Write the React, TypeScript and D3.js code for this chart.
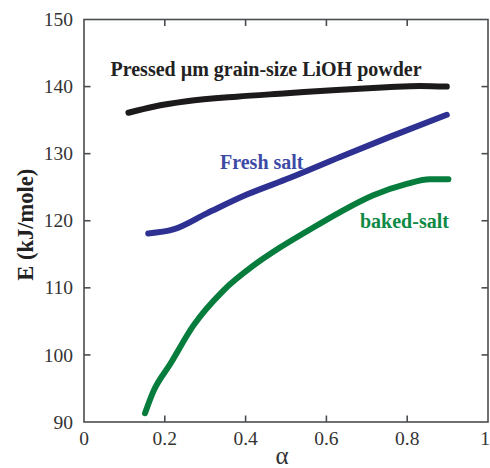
import React from "react";
import * as d3 from "d3";

// Activation energy E versus conversion α for three LiOH samples
const pressedAlpha = [0.110, 0.172, 0.254, 0.378, 0.502, 0.625, 0.749, 0.832, 0.898];
const pressedE = [136.1, 137.0, 137.8, 138.5, 139.0, 139.5, 139.9, 140.1, 140.0];

const freshAlpha = [0.159, 0.221, 0.304, 0.403, 0.510, 0.634, 0.757, 0.898];
const freshE = [118.1, 118.7, 121.1, 123.9, 126.4, 129.5, 132.5, 135.8];

const bakedAlpha = [0.151, 0.172, 0.213, 0.271, 0.345, 0.419, 0.485, 0.551, 0.634, 0.716, 0.799, 0.856, 0.902];
const bakedE = [91.3, 94.6, 98.6, 104.4, 109.6, 113.3, 116.0, 118.4, 121.3, 123.8, 125.5, 126.2, 126.2];

const xTicks = [0, 0.2, 0.4, 0.6, 0.8, 1];
const yTicks = [90, 100, 110, 120, 130, 140, 150];

const seriesNames = ["Pressed µm grain-size LiOH powder", "Fresh salt", "baked-salt"];

const W = 490;
const H = 468;
const left = 84;
const right = 488;
const top = 19.5;
const bottom = 422;

const serif = "Liberation Serif";

export default function App() {
  const x = d3.scaleLinear().domain([0, 1]).range([left, right]);
  const y = d3.scaleLinear().domain([90, 150]).range([bottom, top]);

  const line = d3
    .line<[number, number]>()
    .x((d) => x(d[0]))
    .y((d) => y(d[1]))
    .curve(d3.curveMonotoneX);

  const zip = (a: number[], b: number[]) => a.map((v, i) => [v, b[i]] as [number, number]);

  const series = [
    { data: zip(pressedAlpha, pressedE), color: "#1c1a1a" },
    { data: zip(freshAlpha, freshE), color: "#2e3192" },
    { data: zip(bakedAlpha, bakedE), color: "#067d3c" },
  ];

  const axisColor = "#4a4d4f";
  const tickLen = 6.5;

  return (
    <svg
      width={W}
      height={H}
      style={{ position: "absolute", left: 0, top: 0, background: "#fff" }}
    >
      {/* frame */}
      <rect
        x={left}
        y={top}
        width={right - left}
        height={bottom - top}
        fill="none"
        stroke={axisColor}
        strokeWidth={1.6}
      />
      {/* inward ticks on all four sides */}
      {xTicks.slice(1, -1).map((t) => (
        <g key={"xt" + t}>
          <line x1={x(t)} x2={x(t)} y1={bottom} y2={bottom - tickLen} stroke={axisColor} strokeWidth={1.6} />
          <line x1={x(t)} x2={x(t)} y1={top} y2={top + tickLen} stroke={axisColor} strokeWidth={1.6} />
        </g>
      ))}
      {yTicks.slice(1, -1).map((t) => (
        <g key={"yt" + t}>
          <line x1={left} x2={left + tickLen} y1={y(t)} y2={y(t)} stroke={axisColor} strokeWidth={1.6} />
          <line x1={right} x2={right - tickLen} y1={y(t)} y2={y(t)} stroke={axisColor} strokeWidth={1.6} />
        </g>
      ))}
      {/* tick labels; the last one is nudged inside the page edge */}
      {xTicks.map((t) => (
        <text
          key={"xl" + t}
          x={t === 1 ? x(t) - 3 : x(t)}
          y={445}
          textAnchor="middle"
          fontFamily={serif}
          fontSize={19.5}
          fill="#333"
        >
          {d3.format("~g")(t)}
        </text>
      ))}
      {yTicks.map((t) => (
        <text
          key={"yl" + t}
          x={73}
          y={y(t)}
          dy="0.34em"
          textAnchor="end"
          fontFamily={serif}
          fontSize={19.5}
          fill="#333"
        >
          {t}
        </text>
      ))}
      {/* axis titles */}
      <text
        x={(left + right) / 2 - 4}
        y={464}
        textAnchor="middle"
        fontFamily={serif}
        fontSize={25}
        fill="#333"
      >
        α
      </text>
      <text
        transform={`translate(33, ${(top + bottom) / 2 + 4}) rotate(-90)`}
        textAnchor="middle"
        fontFamily={serif}
        fontWeight="bold"
        fontSize={22.5}
        fill="#222"
      >
        E (kJ/mole)
      </text>
      {/* curves */}
      {series.map((s, i) => (
        <path
          key={i}
          d={line(s.data) ?? ""}
          fill="none"
          stroke={s.color}
          strokeWidth={6}
          strokeLinecap="round"
          strokeLinejoin="round"
        />
      ))}
      {/* series labels */}
      <text x={110.5} y={76} fontFamily={serif} fontWeight="bold" fontSize={20} fill="#222">
        {seriesNames[0]}
      </text>
      <text x={220} y={169} fontFamily={serif} fontWeight="bold" fontSize={20} fill="#3c4aa6">
        {seriesNames[1]}
      </text>
      <text x={360} y={228} fontFamily={serif} fontWeight="bold" fontSize={20} fill="#0f8a46">
        {seriesNames[2]}
      </text>
    </svg>
  );
}
